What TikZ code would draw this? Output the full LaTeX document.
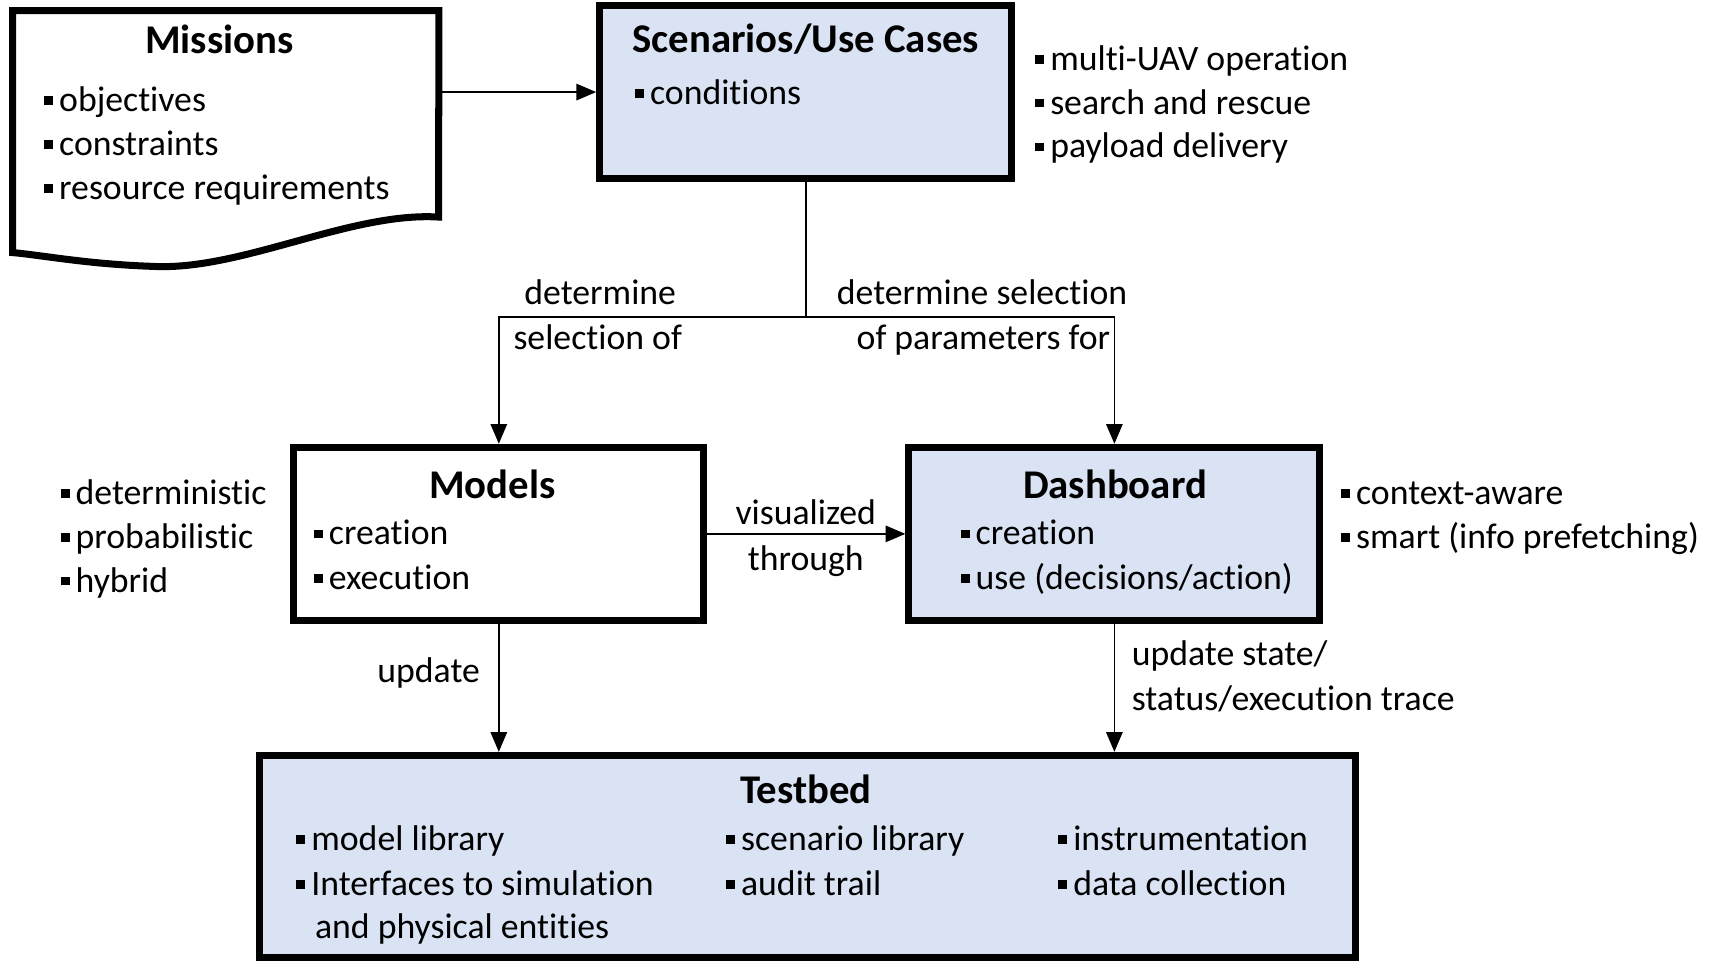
\documentclass[tikz,border=0pt]{standalone}
\usepackage{fontspec}
\setmainfont{Carlito}[Ligatures={NoCommon}]
\usetikzlibrary{arrows.meta,fit}
\definecolor{boxblue}{HTML}{DAE3F3}
\newcommand{\bul}{\rule[3pt]{4pt}{4pt}\hspace{2.8pt}}

\begin{document}
\begin{tikzpicture}[x=0.5pt,y=-0.5pt,
    box/.style={draw,line width=3.2pt,inner sep=0pt},
    title/.style={font=\fontsize{18.6}{22}\selectfont\bfseries,anchor=base,inner sep=0pt,yshift=-1pt},
    item/.style={font=\fontsize{16.3}{20.5}\selectfont,anchor=base west,inner sep=0pt,yshift=-1pt},
    arr/.style={-{Triangle[length=9pt,width=7.5pt]},line width=0.7pt}]
  \useasboundingbox (0,0) rectangle (1568,876);

  % missions (document shape)
  \node[inner sep=0pt,fit={(12,10) (400,230)}] (mis) {};
  \draw[line width=3.2pt] (mis.south west) -- (mis.north west) -- (mis.north east) -- (400,198)
    .. controls (320,193) and (220,247) .. (140,243)
    .. controls (80,241) and (40,233) .. (mis.south west) -- cycle;
  \node[title] (mist) at (200,47) {Missions};
  \foreach \lbl [count=\i] in {objectives,constraints,resource requirements}
    \node[item] (misi\i) at (40,{100+40*(\i-1)}) {\bul\lbl};

  % scenarios
  \node[box,fill=boxblue,fit={(547,5) (923,163)}] (scen) {};
  \node[title] (scent) at (735,46) {Scenarios/Use Cases};
  \node[item] (sceni) at (579,93) {\bul conditions};
  \foreach \lbl [count=\i] in {multi-UAV operation,search and rescue,payload delivery}
    \node[item] (uav\i) at (944,{62+40*(\i-1)}) {\bul\lbl};

  % models
  \node[box,fit={(268,408) (642,566)}] (mod) {};
  \node[title] (modt) at (449,453) {Models};
  \node[item] (modi1) at (286,495) {\bul creation};
  \node[item] (modi2) at (286,536) {\bul execution};
  \foreach \lbl [count=\i] in {deterministic,probabilistic,hybrid}
    \node[item] (kind\i) at (55,{458+40*(\i-1)}) {\bul\lbl};

  % dashboard
  \node[box,fill=boxblue,fit={(829,408) (1204,566)}] (dash) {};
  \node[title] (dasht) at (1017,453) {Dashboard};
  \node[item] (dashi1) at (876,495) {\bul creation};
  \node[item] (dashi2) at (876,536) {\bul use (decisions/action)};
  \node[item] (ctx1) at (1223,458) {\bul context-aware};
  \node[item] (ctx2) at (1223,498) {\bul smart (info prefetching)};

  % testbed
  \node[box,fill=boxblue,fit={(237,689) (1236,873)}] (tb) {};
  \node[title] (tbt) at (735,731) {Testbed};
  \node[item] (tb1) at (270,774) {\bul model library};
  \node[item] (tb2) at (270,815) {\bul Interfaces to simulation};
  \node[item] (tb3) at (287,854) {and physical entities};
  \node[item] (tb4) at (662,774) {\bul scenario library};
  \node[item] (tb5) at (662,815) {\bul audit trail};
  \node[item] (tb6) at (965,774) {\bul instrumentation};
  \node[item] (tb7) at (965,815) {\bul data collection};

  % connector labels
  \node[item] (det1) at (478,276) {determine};
  \node[item] (det2) at (468,317) {selection of};
  \node[item] (det3) at (763,276) {determine selection};
  \node[item,anchor=base east] (det4) at (1013,317) {of parameters for};
  \node[item,anchor=base] (vis1) at (735,476) {visualized};
  \node[item,anchor=base] (vis2) at (735,518) {through};
  \node[item,anchor=base] (upd) at (391,621) {update};
  \node[item] (upd1) at (1032,605) {update state/};
  \node[item] (upd2) at (1032,646) {status/execution trace};

  % connectors
  \coordinate (split) at (735,289);
  \draw[arr] (mis.east |- scen.west) -- (scen.west);
  \draw[line width=0.7pt] (scen.south) -- (split);
  \draw[arr] (split) -| (mod.north);
  \draw[arr] (split) -| (dash.north);
  \draw[arr] (mod.east) -- (dash.west);
  \draw[arr] (mod.south) -- (mod.south |- tb.north);
  \draw[arr] (dash.south) -- (dash.south |- tb.north);
\end{tikzpicture}
\end{document}
